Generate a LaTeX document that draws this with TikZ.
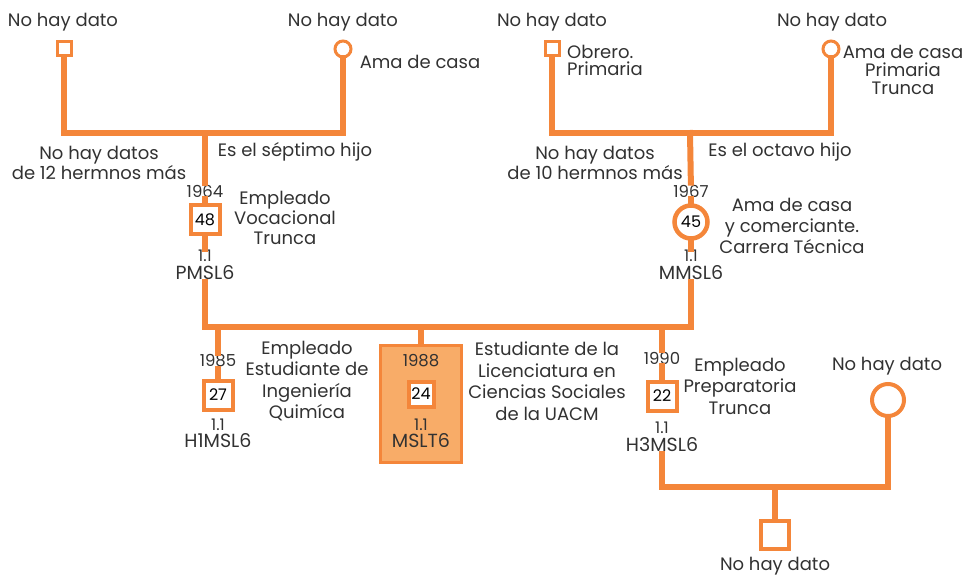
\documentclass[tikz,border=0pt]{standalone}
\usepackage{fontspec}
\setmainfont{Poppins}
\usetikzlibrary{positioning}

\definecolor{famorange}{RGB}{244,134,58}
\definecolor{egofill}{RGB}{248,172,104}
\definecolor{textgray}{RGB}{50,50,50}

\tikzset{
	bar/.style={draw=famorange, line width=6pt, line cap=rect},
	male/.style={rectangle, draw=famorange, fill=white, line width=3pt, minimum size=14pt, inner sep=0pt},
	female/.style={circle, draw=famorange, fill=white, line width=3pt, minimum size=16pt, inner sep=0pt},
	kid/.style={line width=4pt, minimum size=29pt, font=\fontsize{16}{16}\selectfont},
	txt/.style={text=textgray, align=center, inner sep=1pt, font=\fontsize{18}{20}\selectfont},
	yr/.style={text=textgray, inner sep=2pt, font=\fontsize{16.5}{16.5}\selectfont},
	num/.style={text=textgray, inner sep=1pt, font=\fontsize{16}{16}\selectfont},
	code/.style={text=textgray, inner sep=2pt, font=\fontsize{19}{19}\selectfont},
}

\begin{document}
\begin{tikzpicture}[x=1pt, y=-1pt]
\useasboundingbox (0,0) rectangle (968,577);

% Paternal grandparents
\node[male] (gfP) at (64,49) {};
\node[female] (gmP) at (343,49) {};
\node[txt] (gfPlbl) at (63,22) {No hay dato};
\node[txt] (gmPlbl) at (343,22) {No hay dato};
\node[txt] (gmPjob) at (420,62) {Ama de casa};
\coordinate (barP) at (205,133);
\node[txt, font=\fontsize{18}{18}\selectfont] (sibP) at (99,163) {No hay datos\\de 12 hermnos más};
\node[txt] (ordP) at (295,152) {Es el séptimo hijo};

% Maternal grandparents
\node[male] (gfM) at (552,49) {};
\node[female] (gmM) at (831,49) {};
\node[txt] (gfMlbl) at (552,22) {No hay dato};
\node[txt] (gmMlbl) at (832,22) {No hay dato};
\node[txt, align=left, anchor=west, font=\fontsize{18}{17}\selectfont] (gfMjob) at (566,60) {Obrero.\\Primaria};
\node[txt, font=\fontsize{18}{18}\selectfont] (gmMjob) at (903,70) {Ama de casa\\Primaria\\Trunca};
\coordinate (barM) at (690,133);
\node[txt, font=\fontsize{18}{18}\selectfont] (sibM) at (595,163) {No hay datos\\de 10 hermnos más};
\node[txt] (ordM) at (780,152) {Es el octavo hijo};

% Father
\node[yr] (yrP) at (205,191) {1964};
\node[male, kid] (P) at (205,220) {48};
\node[txt] (jobP) at (285,218) {Empleado\\Vocacional\\Trunca};
\node[num] (numP) at (205,256) {1.1};
\node[code] (codeP) at (205,273) {PMSL6};

% Mother
\node[yr] (yrM) at (691,191) {1967};
\node[female, kid, minimum size=33pt, line width=4.5pt] (M) at (691,222) {45};
\node[txt, font=\fontsize{18}{21}\selectfont] (jobM) at (792,226) {Ama de casa\\y comerciante.\\Carrera Técnica};
\node[num] (numM) at (691,256) {1.1};
\node[code] (codeM) at (691,273) {MMSL6};

% Children
\coordinate (barC) at (421,327);
\coordinate (dropH1) at (218,327);
\coordinate (dropH3) at (662,327);

\node[yr] (yrH1) at (218,361) {1985};
\node[male, kid] (H1) at (218,395) {27};
\node[num] (numH1) at (218,425) {1.1};
\node[code] (codeH1) at (218,441) {H1MSL6};
\node[txt, font=\fontsize{18}{21.5}\selectfont] (jobH1) at (307,381) {Empleado\\Estudiante de\\Ingeniería\\Quimíca};

\node[rectangle, draw=famorange, fill=egofill, line width=3pt, minimum width=81pt, minimum height=117pt] (ego) at (421,404) {};
\node[yr] (yrE) at (421,361) {1988};
\node[male, kid, minimum size=25pt] (E) at (421,394) {24};
\node[num] (numE) at (421,425) {1.1};
\node[code] (codeE) at (421,441) {MSLT6};
\node[txt, font=\fontsize{18}{21.5}\selectfont] (jobE) at (547,381) {Estudiante de la\\Licenciatura en\\Ciencias Sociales\\de la UACM};

\node[yr] (yrH3) at (662,358) {1990};
\node[male, kid] (H3) at (662,396) {22};
\node[num] (numH3) at (662,428) {1.1};
\node[code] (codeH3) at (662,445) {H3MSL6};
\node[txt, font=\fontsize{18}{21.5}\selectfont] (jobH3) at (740,386) {Empleado\\Preparatoria\\Trunca};

% Spouse and grandchild
\node[female, line width=4pt, minimum size=32pt] (wH3) at (888,400) {};
\node[txt] (wH3lbl) at (887,366) {No hay dato};
\coordinate (barH3) at (775,487);
\node[male, line width=4pt, minimum size=28pt] (gc) at (775,535) {};
\node[txt] (gclbl) at (775,566) {No hay dato};

% Lines
\draw[bar] (gfP) |- (barP) -| (gmP);
\draw[bar] (barP) -- (yrP);
\draw[bar] (yrP) -- (P);
\draw[bar] (P) -- (numP);
\draw[bar] (gfM) |- (barM) -| (gmM);
\draw[bar] (barM) -- (yrM);
\draw[bar] (yrM) -- (M);
\draw[bar] (M) -- (numM);
\draw[bar] (codeP) |- (barC) -| (codeM);
\draw[bar] (dropH1) -- (yrH1);
\draw[bar] (yrH1) -- (H1);
\draw[bar] (barC) -- (ego);
\draw[bar] (dropH3) -- (yrH3);
\draw[bar] (yrH3) -- (H3);
\draw[bar] (codeH3) |- (barH3) -| (wH3);
\draw[bar] (barH3) -- (gc);
\end{tikzpicture}
\end{document}
